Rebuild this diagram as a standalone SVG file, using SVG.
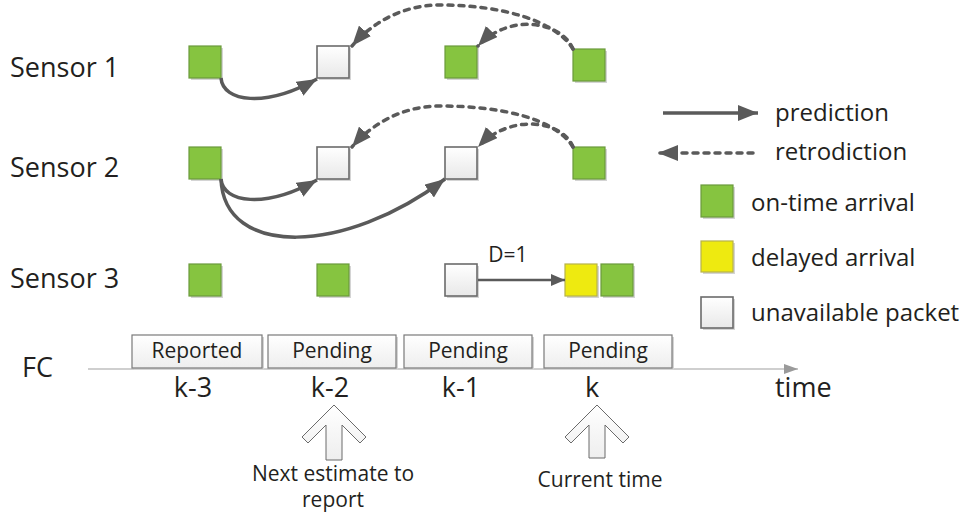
<svg xmlns="http://www.w3.org/2000/svg" width="968" height="518" viewBox="0 0 968 518">
<defs>
<linearGradient id="wg" x1="0" y1="0" x2="0" y2="1"><stop offset="0" stop-color="#ffffff"/><stop offset="1" stop-color="#e8e8e8"/></linearGradient>
<linearGradient id="bg" x1="0" y1="0" x2="0" y2="1"><stop offset="0" stop-color="#ffffff"/><stop offset="1" stop-color="#eeeeee"/></linearGradient>
<marker id="ah" markerUnits="userSpaceOnUse" markerWidth="22" markerHeight="16" refX="20" refY="8" orient="auto"><path d="M0,0 L20,8 L0,16 Z" fill="#5a5a5a"/></marker>
<marker id="ahs" markerUnits="userSpaceOnUse" markerWidth="16" markerHeight="12" refX="14" refY="6" orient="auto"><path d="M0,0 L14,6 L0,12 Z" fill="#5a5a5a"/></marker>
<marker id="axh" markerUnits="userSpaceOnUse" markerWidth="16" markerHeight="12" refX="14" refY="5" orient="auto"><path d="M0,0 L14,5 L0,10 Z" fill="#9a9a9a"/></marker>
</defs>
<style>
text{font-family:"Open Sans","Liberation Sans",sans-serif;fill:#231f20}
.lbl{font-size:27px}
.leg{font-size:24px}
.box{font-size:21px}
.sm{font-size:21px}
.sh{fill:#d4d4d4}
.g{fill:#86c440;stroke:#6b9a3c;stroke-width:1.2}
.y{fill:#eeea10;stroke:#b7b24a;stroke-width:1.2}
.w{fill:url(#wg);stroke:#6b6b6b;stroke-width:1.6}
.tb{fill:url(#bg);stroke:#7a7a7a;stroke-width:1.2}
.pred{fill:none;stroke:#5a5a5a;stroke-width:3.5;marker-end:url(#ah)}
.retro{fill:none;stroke:#5a5a5a;stroke-width:3.5;stroke-dasharray:5 6;stroke-linecap:round;marker-end:url(#ah)}
.bigarrow{fill:url(#bg);stroke:#6b6b6b;stroke-width:1}
</style>
<rect width="968" height="518" fill="#ffffff"/>

<g id="labels">
<text class="lbl" x="10" y="77">Sensor 1</text>
<text class="lbl" x="10" y="177">Sensor 2</text>
<text class="lbl" x="10" y="288">Sensor 3</text>
<text class="lbl" x="22" y="377">FC</text>
</g>

<g id="s1">
<g id="s1-k3"><rect class="sh" x="191" y="48" width="32" height="32"/><rect class="g" x="189" y="46" width="32" height="32"/></g>
<g id="s1-k2"><rect class="sh" x="319" y="48" width="32" height="32"/><rect class="w" x="317" y="46" width="32" height="32"/></g>
<g id="s1-k1"><rect class="sh" x="447" y="48" width="32" height="32"/><rect class="g" x="445" y="46" width="32" height="32"/></g>
<g id="s1-k"><rect class="sh" x="575" y="51" width="32" height="32"/><rect class="g" x="573" y="49" width="32" height="32"/></g>
</g>
<g id="s2">
<g id="s2-k3"><rect class="sh" x="191" y="149" width="32" height="32"/><rect class="g" x="189" y="147" width="32" height="32"/></g>
<g id="s2-k2"><rect class="sh" x="319" y="149" width="32" height="32"/><rect class="w" x="317" y="147" width="32" height="32"/></g>
<g id="s2-k1"><rect class="sh" x="447" y="149" width="32" height="32"/><rect class="w" x="445" y="147" width="32" height="32"/></g>
<g id="s2-k"><rect class="sh" x="575" y="149" width="32" height="32"/><rect class="g" x="573" y="147" width="32" height="32"/></g>
</g>
<g id="s3">
<g id="s3-k3"><rect class="sh" x="191" y="266" width="32" height="32"/><rect class="g" x="189" y="264" width="32" height="32"/></g>
<g id="s3-k2"><rect class="sh" x="319" y="266" width="32" height="32"/><rect class="g" x="317" y="264" width="32" height="32"/></g>
<g id="s3-k1"><rect class="sh" x="447" y="266" width="32" height="32"/><rect class="w" x="445" y="264" width="32" height="32"/></g>
<g id="s3-delayed"><rect class="sh" x="567" y="266" width="32" height="32"/><rect class="y" x="565" y="264" width="32" height="32"/></g>
<g id="s3-k"><rect class="sh" x="603" y="266" width="32" height="32"/><rect class="g" x="601" y="264" width="32" height="32"/></g>
</g>

<g id="connectors">
<path class="pred" d="M221,78 C223,102 265,108 317,79"/>
<path class="retro" d="M573,49 C555,20 500,5 440,5 C400,5 370,25 352,46"/>
<path class="retro" d="M573,49 C562,22 510,12 478,46"/>
<path class="pred" d="M221,179 C223,203 265,209 317,180"/>
<path class="pred" d="M221,179 C224,258 345,255 445,179"/>
<path class="retro" d="M573,147 C555,118 500,106 440,106 C400,106 370,126 352,147"/>
<path class="retro" d="M573,147 C562,120 510,113 478,147"/>
<path d="M478,280 L565,280" fill="none" stroke="#5a5a5a" stroke-width="2.5" marker-end="url(#ahs)"/>
</g>
<text class="sm" x="508" y="262" text-anchor="middle">D=1</text>

<g id="legend">
<g id="leg-pred"><path class="pred" d="M663,113 L758,113"/><text class="leg" x="775" y="121">prediction</text></g>
<g id="leg-retro"><path class="retro" d="M753,153 L658,153"/><text class="leg" x="775" y="160">retrodiction</text></g>
<g id="leg-ontime"><rect class="sh" x="703" y="187" width="32" height="32"/><rect class="g" x="701" y="185" width="32" height="32"/><text class="leg" x="751" y="211">on-time arrival</text></g>
<g id="leg-delayed"><rect class="sh" x="703" y="243" width="32" height="31"/><rect class="y" x="701" y="241" width="32" height="31"/><text class="leg" x="751" y="266">delayed arrival</text></g>
<g id="leg-unavail"><rect class="sh" x="703" y="299" width="32" height="31"/><rect class="w" x="701" y="297" width="32" height="31"/><text class="leg" x="751" y="321">unavailable packet</text></g>
</g>

<g id="axis">
<path d="M88,369 L798,369" stroke="#a0a0a0" stroke-width="1.2" fill="none" marker-end="url(#axh)"/>
<text class="lbl" x="775" y="397">time</text>
</g>
<g id="fc-k3"><rect class="sh" x="134" y="337" width="130" height="33"/><rect class="tb" x="132" y="335" width="130" height="33"/><text class="box" x="197" y="358" text-anchor="middle">Reported</text><text class="lbl" x="193" y="397" text-anchor="middle">k-3</text></g>
<g id="fc-k2"><rect class="sh" x="270" y="337" width="128" height="33"/><rect class="tb" x="268" y="335" width="128" height="33"/><text class="box" x="332" y="358" text-anchor="middle">Pending</text><text class="lbl" x="330" y="397" text-anchor="middle">k-2</text></g>
<g id="fc-k1"><rect class="sh" x="406" y="337" width="128" height="33"/><rect class="tb" x="404" y="335" width="128" height="33"/><text class="box" x="468" y="358" text-anchor="middle">Pending</text><text class="lbl" x="461" y="397" text-anchor="middle">k-1</text></g>
<g id="fc-k"><rect class="sh" x="546" y="337" width="128" height="33"/><rect class="tb" x="544" y="335" width="128" height="33"/><text class="box" x="608" y="358" text-anchor="middle">Pending</text><text class="lbl" x="592" y="397" text-anchor="middle">k</text></g>

<g id="next-estimate">
<path class="bigarrow" d="M334,405 L366,437 L360,443 L342,425 L342,460 L326,460 L326,425 L308,443 L302,437 Z"/>
<text class="sm" x="333" y="481" text-anchor="middle">Next estimate to</text>
<text class="sm" x="333" y="507" text-anchor="middle">report</text>
</g>
<g id="current-time">
<path class="bigarrow" d="M597,405 L629,437 L623,443 L605,425 L605,458 L589,458 L589,425 L571,443 L565,437 Z"/>
<text class="sm" x="600" y="487" text-anchor="middle">Current time</text>
</g>
</svg>
